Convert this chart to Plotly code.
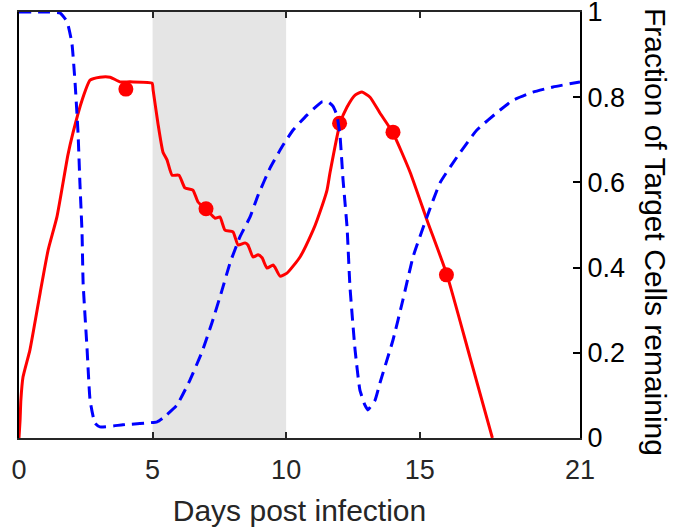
import plotly.graph_objects as go

# Red model curve (left axis, unlabelled, 0-1 scaled)
red_x = [0, 0.04, 0.07, 0.15, 0.41, 0.79, 1.09, 1.42, 1.83, 2.02, 2.36, 2.66, 3.03, 3.41, 3.78, 4.16, 4.98,
         5.02, 5.20, 5.39, 5.54, 5.73, 5.99, 6.21, 6.51, 6.70, 7.04, 7.34, 7.52, 7.71, 8.01, 8.20, 8.46, 8.57,
         8.76, 8.95, 9.10, 9.28, 9.51, 9.58, 9.77, 10.03, 10.52, 11.01, 11.16, 11.53, 11.64, 12.02, 12.28,
         12.58, 12.84, 13.14, 13.51, 14.00, 14.64, 15.27, 16.02, 16.88, 17.72]
red_y = [0, 0.042, 0.089, 0.143, 0.207, 0.340, 0.441, 0.519, 0.664, 0.716, 0.793, 0.840, 0.847, 0.847, 0.836, 0.836, 0.833,
         0.817, 0.739, 0.671, 0.653, 0.617, 0.617, 0.587, 0.582, 0.554, 0.535, 0.516, 0.519, 0.488, 0.484, 0.453, 0.458, 0.453,
         0.425, 0.430, 0.423, 0.399, 0.406, 0.401, 0.380, 0.387, 0.425, 0.488, 0.512, 0.582, 0.622, 0.739, 0.777,
         0.805, 0.812, 0.800, 0.763, 0.716, 0.624, 0.512, 0.383, 0.190, 0.0]

# Observed data points
obs_x = [4, 7, 12, 14, 16]
obs_y = [0.819, 0.538, 0.739, 0.718, 0.383]

# Fraction of target cells remaining (right axis)
blue_x = [0, 0.79, 1.53, 1.80, 1.98, 2.10, 2.21, 2.28, 2.36, 2.40, 2.55, 2.66, 2.84, 3.03, 3.89, 5.17, 5.39, 5.91,
          6.40, 6.85, 7.22, 7.60, 7.90, 8.27, 8.65, 8.95, 9.40, 9.84, 10.26, 10.78, 11.34, 11.57, 11.75, 11.90,
          12.02, 12.13, 12.28, 12.39, 12.58, 12.76, 12.95, 13.06, 13.33, 13.51, 14.00, 14.37, 14.75, 15.27,
          15.76, 16.40, 17.14, 18.01, 18.49, 19.24, 19.99, 21.0]
blue_y = [1.0, 1.0, 0.998, 0.977, 0.927, 0.833, 0.716, 0.599, 0.481, 0.364, 0.207, 0.089, 0.035, 0.026, 0.031, 0.038, 0.047, 0.077,
          0.136, 0.202, 0.270, 0.347, 0.411, 0.472, 0.519, 0.570, 0.634, 0.683, 0.723, 0.758, 0.789, 0.789, 0.779, 0.758,
          0.707, 0.606, 0.495, 0.354, 0.207, 0.113, 0.077, 0.066, 0.089, 0.129, 0.230, 0.324, 0.425, 0.519,
          0.599, 0.660, 0.723, 0.770, 0.793, 0.812, 0.824, 0.836]

x_ticks = [0, 5, 10, 15, 21]
y_ticks = [0, 0.2, 0.4, 0.6, 0.8, 1]
y_tick_text = ["0", "0.2", "0.4", "0.6", "0.8", "1"]
treatment = [5, 10]

FONT = "Liberation Sans, Arial, sans-serif"

fig = go.Figure()
fig.add_trace(go.Scatter(x=red_x, y=red_y, mode="lines",
                         line=dict(color="#ff0000", width=3, shape="spline", smoothing=0.5),
                         yaxis="y", showlegend=False, hoverinfo="skip"))
fig.add_trace(go.Scatter(x=obs_x, y=obs_y, mode="markers", marker=dict(color="#ff0000", size=15),
                         yaxis="y", showlegend=False, cliponaxis=False))
fig.add_trace(go.Scatter(x=blue_x, y=blue_y, mode="lines",
                         line=dict(color="#0000ff", width=3, dash="12px,7px", shape="spline", smoothing=0.4),
                         yaxis="y2", showlegend=False))

fig.add_shape(type="rect", xref="x", yref="paper", x0=treatment[0], x1=treatment[1], y0=0, y1=1,
              fillcolor="#e5e5e5", line=dict(width=0), layer="below")

fig.update_layout(
    width=679, height=527,
    margin=dict(l=19, r=99, t=12, b=89),
    paper_bgcolor="white", plot_bgcolor="white",
    font=dict(family=FONT, size=27, color="#262626"),
    xaxis=dict(range=[0, 21], tickvals=x_ticks, ticktext=[str(v) for v in x_ticks],
               ticks="inside", ticklen=6, tickwidth=1.5, tickcolor="#262626",
               showline=True, linecolor="#262626", linewidth=2, mirror="ticks",
               showgrid=False, zeroline=False, automargin=False, ticklabelstandoff=7,
               tickfont=dict(size=27, color="#262626"),
               title=dict(text="Days post infection", font=dict(size=30, color="#262626"), standoff=18)),
    yaxis=dict(range=[0, 1], showticklabels=False, ticks="", showline=True, linecolor="black",
               linewidth=2, showgrid=False, zeroline=False, automargin=False),
    yaxis2=dict(range=[0, 1], overlaying="y", side="right", tickvals=y_ticks, ticktext=y_tick_text,
                ticks="inside", ticklen=7, tickwidth=2, tickcolor="black", ticklabeloverflow="allow",
                showline=True, linecolor="black", linewidth=2, showgrid=False, zeroline=False,
                automargin=False, tickfont=dict(size=27, color="black")),
    annotations=[dict(text="Fraction of Target Cells remaining", textangle=90, xref="paper", yref="paper",
                      x=1.1337, y=0.4836, xanchor="center", yanchor="middle", showarrow=False,
                      font=dict(size=30, color="black", family=FONT))],
)

fig.write_html("out.html", config={"displayModeBar": False},
               post_script="document.body.style.margin='0';document.body.style.padding='0';")
